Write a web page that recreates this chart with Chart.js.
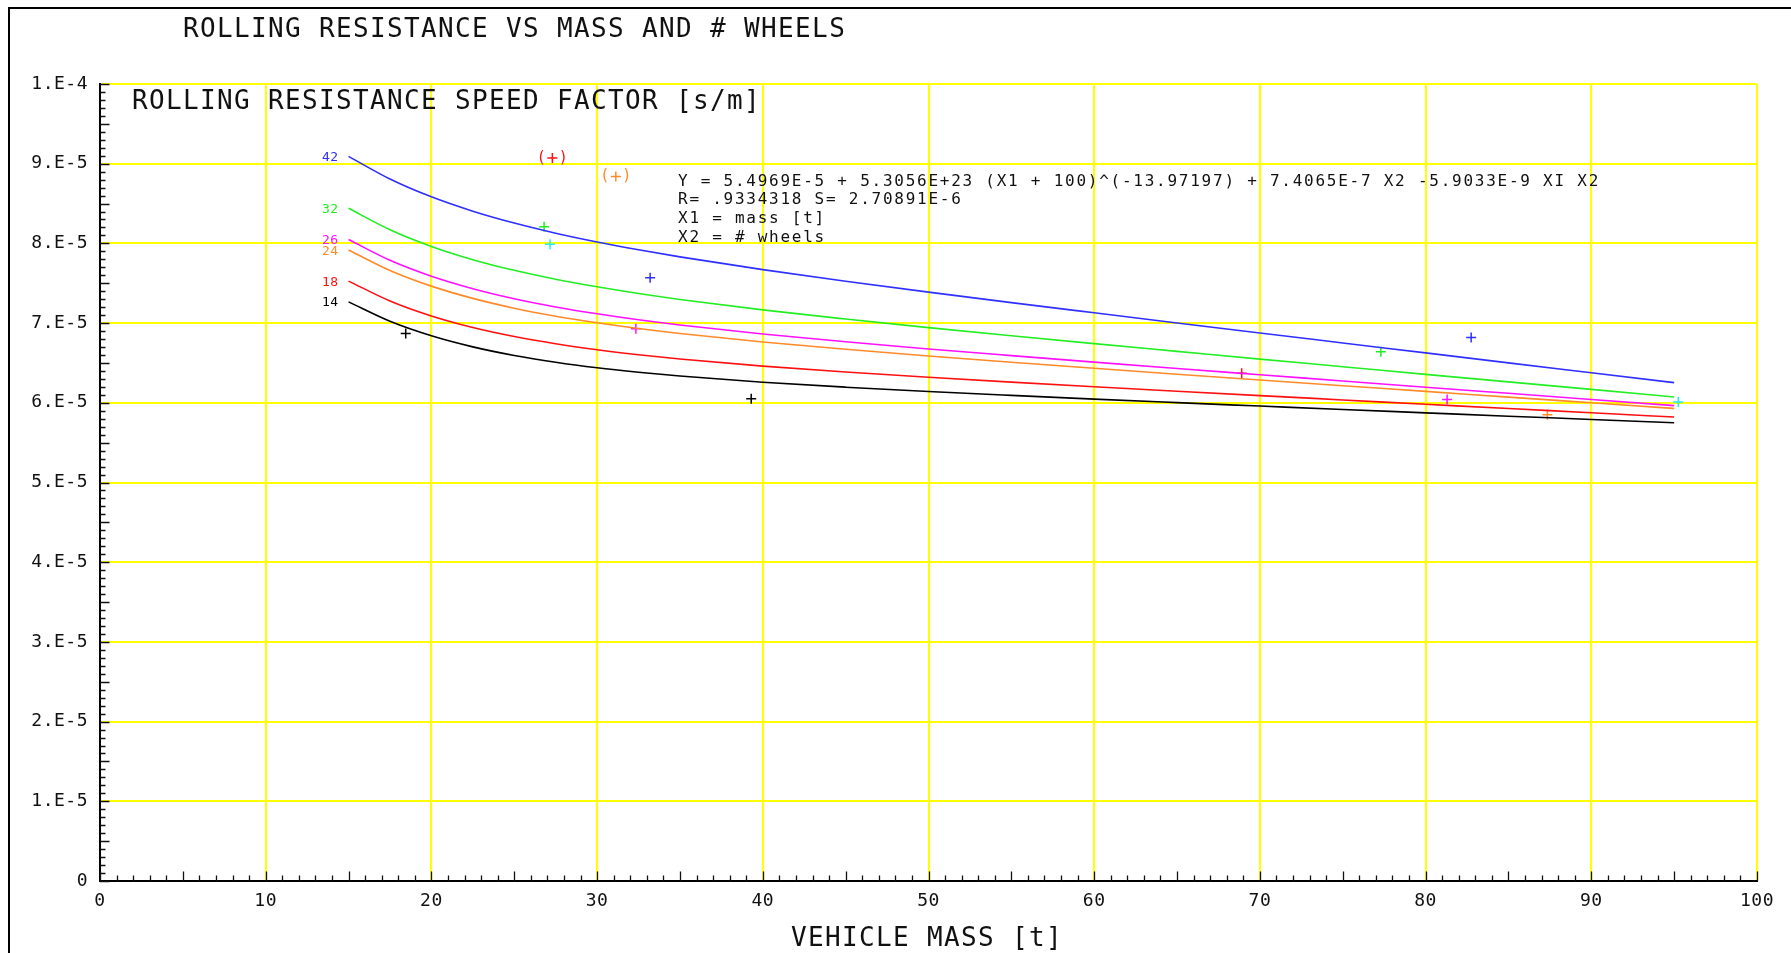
<!DOCTYPE html>
<html>
<head>
<meta charset="utf-8">
<script src="https://cdn.jsdelivr.net/npm/chart.js@4.4.1/dist/chart.umd.min.js"></script>
<style>
html,body{margin:0;padding:0;background:#fff;overflow:hidden}
canvas{display:block}
</style>
</head>
<body>
<canvas id="c" width="1791" height="953" style="width:1791px;height:953px"></canvas>
<script>
// ---------- texts ----------
const chartTitle = 'ROLLING RESISTANCE VS MASS AND # WHEELS';
const yAxisTitle = 'ROLLING RESISTANCE SPEED FACTOR [s/m]';
const xAxisTitle = 'VEHICLE MASS [t]';
const fitLines = [
  'Y = 5.4969E-5 + 5.3056E+23 (X1 + 100)^(-13.97197) + 7.4065E-7 X2 -5.9033E-9 XI X2',
  'R= .9334318 S= 2.70891E-6',
  'X1 = mass [t]',
  'X2 = # wheels'
];

// ---------- tick labels ----------
const xTickLabels = ['0','10','20','30','40','50','60','70','80','90','100'];
const yTickLabels = ['0','1.E-5','2.E-5','3.E-5','4.E-5','5.E-5','6.E-5','7.E-5','8.E-5','9.E-5','1.E-4'];

// ---------- fitted curves ----------
const massGrid = [15,17.5,20,22.5,25,27.5,30,32.5,35,40,45,50,55,60,65,70,75,80,85,90,95];
const wheelLabels = ['14','18','24','26','32','42'];
const curve14 = [7.266e-5,7.023e-5,6.841e-5,6.702e-5,6.594e-5,6.509e-5,6.440e-5,6.384e-5,6.336e-5,6.258e-5,6.196e-5,6.142e-5,6.093e-5,6.046e-5,6.002e-5,5.959e-5,5.916e-5,5.874e-5,5.832e-5,5.791e-5,5.749e-5];
const curve18 = [7.527e-5,7.278e-5,7.090e-5,6.945e-5,6.832e-5,6.741e-5,6.666e-5,6.603e-5,6.549e-5,6.460e-5,6.386e-5,6.320e-5,6.259e-5,6.201e-5,6.145e-5,6.090e-5,6.036e-5,5.982e-5,5.928e-5,5.875e-5,5.821e-5];
const curve24 = [7.918e-5,7.661e-5,7.464e-5,7.310e-5,7.187e-5,7.087e-5,7.004e-5,6.932e-5,6.870e-5,6.763e-5,6.671e-5,6.587e-5,6.508e-5,6.433e-5,6.359e-5,6.286e-5,6.214e-5,6.143e-5,6.071e-5,6.000e-5,5.929e-5];
const curve26 = [8.049e-5,7.788e-5,7.588e-5,7.432e-5,7.306e-5,7.203e-5,7.117e-5,7.042e-5,6.977e-5,6.864e-5,6.766e-5,6.676e-5,6.592e-5,6.510e-5,6.430e-5,6.352e-5,6.274e-5,6.196e-5,6.119e-5,6.042e-5,5.965e-5];
const curve32 = [8.440e-5,8.171e-5,7.962e-5,7.796e-5,7.662e-5,7.550e-5,7.455e-5,7.371e-5,7.297e-5,7.166e-5,7.051e-5,6.943e-5,6.841e-5,6.742e-5,6.645e-5,6.548e-5,6.453e-5,6.357e-5,6.262e-5,6.168e-5,6.073e-5];
const curve42 = [9.092e-5,8.808e-5,8.584e-5,8.404e-5,8.255e-5,8.128e-5,8.018e-5,7.920e-5,7.831e-5,7.671e-5,7.526e-5,7.389e-5,7.257e-5,7.129e-5,7.002e-5,6.876e-5,6.751e-5,6.626e-5,6.501e-5,6.377e-5,6.253e-5];

const obsBlackX = [18.45, 39.3];     const obsBlackY = [6.87e-5, 6.05e-5];
const obsRedX = [68.9];              const obsRedY = [6.37e-5];
const obsOrangeX = [87.35];          const obsOrangeY = [5.85e-5];
const obsMagentaX = [32.34, 81.3];   const obsMagentaY = [6.93e-5, 6.04e-5];
const obsGreenX = [26.8, 77.3];      const obsGreenY = [8.21e-5, 6.64e-5];
const obsCyanX = [27.16, 95.25];     const obsCyanY = [7.99e-5, 6.01e-5];
const obsBlueX = [33.2, 82.75];      const obsBlueY = [7.57e-5, 6.82e-5];
const exclRedX = [27.3];             const exclRedY = [9.07e-5];
const exclOrangeX = [31.13];         const exclOrangeY = [8.84e-5];

// ---------- styles ----------
const C = {black:'#000000', red:'#ff1010', orange:'#ff8a2a', magenta:'#ff10ff', green:'#22ee22', blue:'#2f2fff', cyan:'#22eeee'};
const FONT = "'DejaVu Sans Mono', monospace";

const pts = (xs, ys) => xs.map((x, i) => ({x, y: ys[i]}));
const curveSets = [
  {label: wheelLabels[0], ys: curve14, color: C.black},
  {label: wheelLabels[1], ys: curve18, color: C.red},
  {label: wheelLabels[2], ys: curve24, color: C.orange},
  {label: wheelLabels[3], ys: curve26, color: C.magenta},
  {label: wheelLabels[4], ys: curve32, color: C.green},
  {label: wheelLabels[5], ys: curve42, color: C.blue}
];
const datasets = curveSets.map(c => ({
  label: c.label, data: pts(massGrid, c.ys), borderColor: c.color, backgroundColor: c.color,
  borderWidth: 1.6, pointRadius: 0, cubicInterpolationMode: 'monotone', fill: false
}));
const obsSets = [
  [obsBlackX, obsBlackY, C.black, false],
  [obsRedX, obsRedY, C.red, false],
  [obsOrangeX, obsOrangeY, C.orange, false],
  [obsMagentaX, obsMagentaY, C.magenta, false],
  [obsGreenX, obsGreenY, C.green, false],
  [obsCyanX, obsCyanY, C.cyan, false],
  [obsBlueX, obsBlueY, C.blue, false],
  [exclRedX, exclRedY, C.red, true],
  [exclOrangeX, exclOrangeY, C.orange, true]
];
obsSets.forEach(([xs, ys, col, excl]) => datasets.push({
  label: 'obs', data: pts(xs, ys), showLine: false, pointStyle: 'cross', pointRadius: 5,
  borderColor: col, backgroundColor: col, pointBorderWidth: 1.5, excluded: excl
}));

function txt(ctx, s, x, y, size, spacing, color, align) {
  ctx.font = size + 'px ' + FONT;
  ctx.letterSpacing = spacing + 'px';
  ctx.fillStyle = color;
  ctx.textAlign = align || 'left';
  ctx.textBaseline = 'alphabetic';
  ctx.fillText(s, x, y);
}

const deco = {
  id: 'deco',
  beforeDraw(chart) {
    chart.ctx.letterSpacing = '0.5px';
  },
  afterDatasetsDraw(chart) {
    const ctx = chart.ctx, xs = chart.scales.x, ys = chart.scales.y;
    ctx.save();
    // curve labels
    curveSets.forEach(c => {
      const px = xs.getPixelForValue(massGrid[0]) - 10;
      const py = ys.getPixelForValue(c.ys[0]) + 4.6;
      txt(ctx, c.label, px, py, 13, 0.4, c.color, 'right');
    });
    // parentheses around excluded points
    chart.data.datasets.forEach(ds => {
      if (!ds.excluded) return;
      ds.data.forEach(p => {
        const px = xs.getPixelForValue(p.x), py = ys.getPixelForValue(p.y);
        ctx.font = '15px ' + FONT; ctx.letterSpacing = '0px';
        ctx.fillStyle = ds.borderColor; ctx.textAlign = 'center'; ctx.textBaseline = 'middle';
        ctx.fillText('(', px - 11, py);
        ctx.fillText(')', px + 11, py);
      });
    });
    ctx.restore();
  },
  afterDraw(chart) {
    const ctx = chart.ctx, xs = chart.scales.x, ys = chart.scales.y, a = chart.chartArea;
    ctx.save();
    // outer frame
    ctx.strokeStyle = '#000'; ctx.lineWidth = 2;
    ctx.beginPath(); ctx.moveTo(9, chart.height); ctx.lineTo(9, 8); ctx.lineTo(chart.width, 8); ctx.stroke();
    // inward ticks
    ctx.strokeStyle = '#111'; ctx.lineWidth = 1.3;
    ctx.beginPath();
    for (let i = 0; i <= 100; i++) {
      const len = (i % 5 === 0) ? 9.5 : 5.5;
      const px = Math.round(xs.getPixelForValue(i)) + 0.5;
      ctx.moveTo(px, a.bottom); ctx.lineTo(px, a.bottom - len);
      const py = Math.round(ys.getPixelForValue(i * 1e-6)) + 0.5;
      ctx.moveTo(a.left, py); ctx.lineTo(a.left + len, py);
    }
    ctx.stroke();
    // titles
    txt(ctx, chartTitle, 183, 36.5, 26, 1.35, '#111');
    txt(ctx, yAxisTitle, 132, 108.5, 26, 1.35, '#111');
    txt(ctx, xAxisTitle, 791, 946, 26, 1.35, '#111');
    // fit text
    fitLines.forEach((s, i) => txt(ctx, s, 678, 185.5 + i * 18.7, 16, 1.75, '#111'));
    ctx.restore();
    ctx.letterSpacing = '0px';
  }
};

new Chart(document.getElementById('c'), {
  type: 'line',
  data: {datasets},
  options: {
    responsive: false, animation: false, devicePixelRatio: 1,
    layout: {padding: {left: 0, top: 84, right: 34, bottom: 0}},
    plugins: {legend: {display: false}, tooltip: {enabled: false}, title: {display: false}},
    elements: {line: {tension: 0}},
    scales: {
      x: {
        type: 'linear', min: 0, max: 100,
        afterFit: s => { s.height = 72; },
        afterBuildTicks: s => { s.ticks = xTickLabels.map((_, i) => ({value: i * 10})); },
        ticks: {callback: (v, i) => xTickLabels[i], maxRotation: 0, autoSkip: false, padding: 10,
                color: '#111', font: {family: FONT, size: 18}},
        grid: {color: '#ffff00', lineWidth: 2, drawTicks: false},
        border: {display: true, color: '#000', width: 2}
      },
      y: {
        type: 'linear', min: 0, max: 1e-4,
        afterFit: s => { s.width = 100; },
        afterBuildTicks: s => { s.ticks = yTickLabels.map((_, i) => ({value: i * 1e-5})); },
        ticks: {callback: (v, i) => yTickLabels[i], padding: 12, color: '#111',
                font: {family: FONT, size: 18}},
        grid: {color: '#ffff00', lineWidth: 2, drawTicks: false},
        border: {display: true, color: '#000', width: 2}
      }
    }
  },
  plugins: [deco]
});
</script>
</body>
</html>
